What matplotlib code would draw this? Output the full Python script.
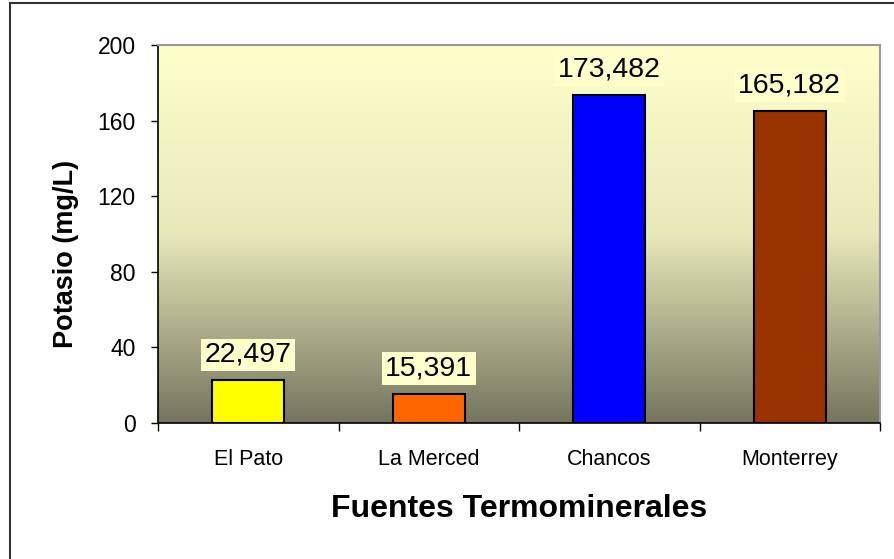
import matplotlib
matplotlib.use("Agg")
import matplotlib.pyplot as plt
import numpy as np
from matplotlib.patches import Rectangle
from matplotlib.colors import LinearSegmentedColormap

categories = ["El Pato", "La Merced", "Chancos", "Monterrey"]
values = [22.497, 15.391, 173.482, 165.182]
value_labels = ["22,497", "15,391", "173,482", "165,182"]
bar_colors = ["#FFFF00", "#FF6600", "#0000FF", "#993300"]
yticks = [0, 40, 80, 120, 160, 200]

plt.rcParams['font.family'] = ['Liberation Sans', 'DejaVu Sans']

fig = plt.figure(figsize=(8.94, 5.59), dpi=100)
fig.patch.set_facecolor('white')

# outer frame
fig.patches.append(Rectangle((10/894, -0.05), 1.2, 1 - 3/559 + 0.05, transform=fig.transFigure,
                             fill=False, edgecolor='#333333', linewidth=1.5, zorder=0))

ax = fig.add_axes([158/894, 1 - 423/559, (880-158)/894, (423-45)/559])

# gradient background (light at top, dark at bottom)
cmap = LinearSegmentedColormap.from_list('bg', ['#FFFFCC', '#E8E8BA', '#75755E'])
grad = np.linspace(0, 1, 256).reshape(-1, 1)
ax.imshow(grad, extent=[-0.5, 3.5, 0, 200], aspect='auto', cmap=cmap, zorder=0,
          interpolation='bicubic')

x = np.arange(len(categories))
ax.bar(x, values, width=0.4, color=bar_colors, edgecolor='black', linewidth=1.5, zorder=3)

for xi, v, lab in zip(x, values, value_labels):
    ax.annotate(lab, (xi, v), xytext=(0, 9), textcoords='offset points',
                ha='center', va='bottom', fontsize=20.5, zorder=5,
                bbox=dict(boxstyle='square,pad=0.12', facecolor='#FFFFCC', edgecolor='none'))

ax.set_xlim(-0.5, 3.5)
ax.set_ylim(0, 200)
ax.set_yticks(yticks)
ax.set_yticklabels([str(t) for t in yticks], fontsize=16.5)
ax.tick_params(axis='y', direction='out', length=5, width=1, pad=11)

ax.set_xticks(x)
ax.set_xticklabels(categories, fontsize=15.5)
ax.tick_params(axis='x', which='major', length=0, pad=19)
ax.set_xticks(np.arange(-0.5, 4, 1), minor=True)
ax.tick_params(axis='x', which='minor', direction='out', length=6, width=1)

for s in ['top', 'right']:
    ax.spines[s].set_color('#999999')
    ax.spines[s].set_linewidth(1.5)
for s in ['left', 'bottom']:
    ax.spines[s].set_color('black')
    ax.spines[s].set_linewidth(1.2)

ax.set_ylabel('Potasio (mg/L)', fontsize=19.5, fontweight='bold')
ax.yaxis.set_label_coords(-79/722, (423-254)/378)
ax.set_xlabel('Fuentes Termominerales', fontsize=23, fontweight='bold', labelpad=17)

fig.savefig('out.png', dpi=100)
